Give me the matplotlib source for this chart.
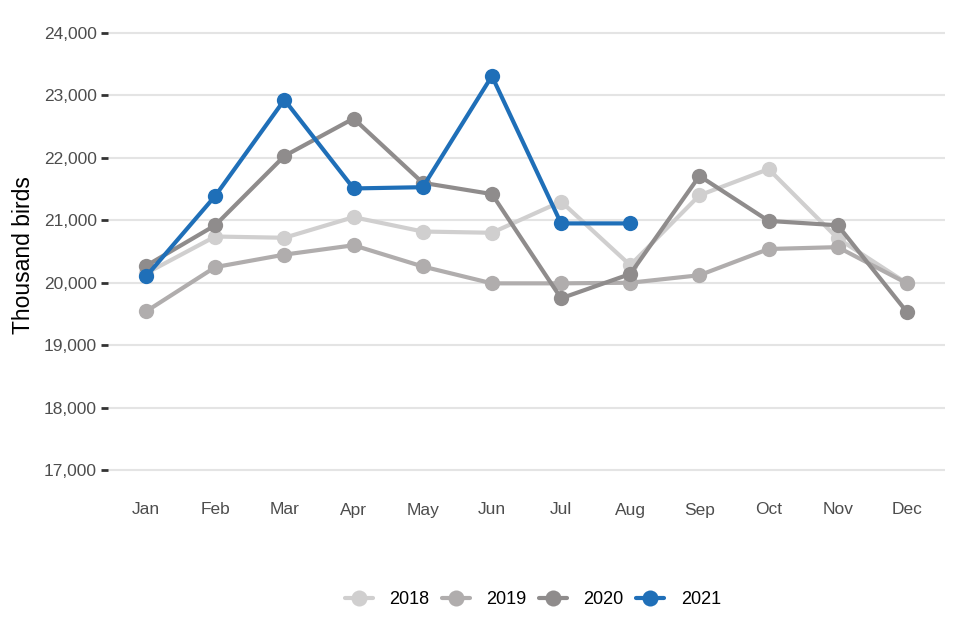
import matplotlib
matplotlib.use("Agg")
import matplotlib.pyplot as plt
from matplotlib.ticker import FuncFormatter

months = ["Jan", "Feb", "Mar", "Apr", "May", "Jun", "Jul", "Aug", "Sep", "Oct", "Nov", "Dec"]
years = ["2018", "2019", "2020", "2021"]
v2018 = [20150, 20740, 20720, 21050, 20820, 20800, 21300, 20280, 21400, 21820, 20710, 19990]
v2019 = [19540, 20250, 20450, 20600, 20260, 19990, 19990, 20000, 20120, 20540, 20570, 19990]
v2020 = [20270, 20920, 22030, 22630, 21600, 21420, 19750, 20140, 21710, 20990, 20920, 19530]
v2021 = [20100, 21390, 22930, 21510, 21530, 23310, 20950, 20950]
colors = ["#d0cfcf", "#b0adad", "#8f8c8c", "#1f6fb8"]
yticks = [17000, 18000, 19000, 20000, 21000, 22000, 23000, 24000]

plt.rcParams['font.family'] = ['Liberation Sans', 'DejaVu Sans']
fig = plt.figure(figsize=(9.6, 6.4), dpi=100)
ax = fig.add_axes([108/960, 1 - 490/640, (945 - 108)/960, 470/640])

for vals, col, lab in zip([v2018, v2019, v2020, v2021], colors, years):
    x = list(range(len(vals)))
    ax.plot(x, vals, color=col, lw=3.0, marker='o', markersize=11,
            markeredgewidth=0, label=lab, solid_capstyle='round')

ax.set_xlim(-0.55, 11.55)
ax.set_ylim(16680, 24208)
ax.set_yticks(yticks)
ax.yaxis.set_major_formatter(FuncFormatter(lambda v, p: f"{int(v):,}"))
ax.set_xticks(range(12))
ax.set_xticklabels(months)
ax.grid(axis='y', color='#e4e4e4', lw=1.5)
ax.grid(axis='x', visible=False)
ax.set_axisbelow(True)
for s in ax.spines.values():
    s.set_visible(False)
ax.tick_params(axis='y', length=5, width=2, color='#333333', labelsize=12.5, labelcolor='#4d4d4d', pad=3)
ax.tick_params(axis='x', length=0, labelsize=12.5, labelcolor='#4d4d4d', pad=9)
ax.set_ylabel("Thousand birds", fontsize=16.5, color='black', labelpad=6)

leg = fig.legend(loc='center', bbox_to_anchor=(533/960, 1 - 600/640), ncol=4, frameon=False,
                 fontsize=13, handlelength=1.55, columnspacing=0.7, handletextpad=0.9,
                 markerscale=1.05)

fig.savefig("out.png", dpi=100)
